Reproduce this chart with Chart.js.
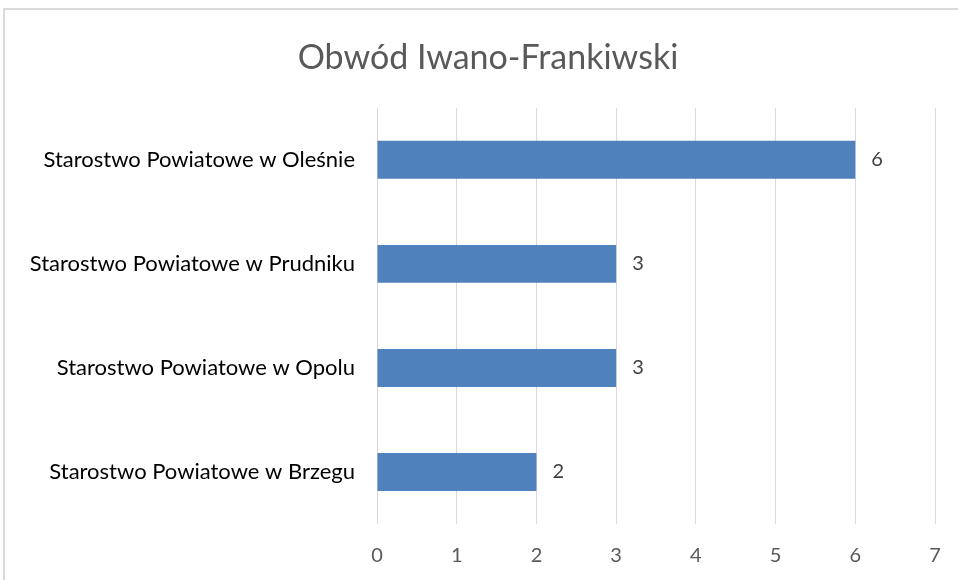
<!DOCTYPE html>
<html>
<head>
<meta charset="utf-8">
<script src="https://cdn.jsdelivr.net/npm/chart.js@4/dist/chart.umd.min.js"></script>
<style>
  html, body { margin: 0; padding: 0; background: #fff; overflow: hidden; }
  #frame {
    position: absolute;
    left: 3px;
    top: 8px;
    width: 966px;
    height: 600px;
    border: 2px solid #d9d9d9;
    background: #fff;
  }
  #chart { display: block; }
</style>
</head>
<body>
<div id="frame">
  <canvas id="chart" width="966" height="580"></canvas>
</div>
<script>
// chart data
const chartTitle = 'Obwód Iwano-Frankiwski';
const categories = [
  'Starostwo Powiatowe w Oleśnie',
  'Starostwo Powiatowe w Prudniku',
  'Starostwo Powiatowe w Opolu',
  'Starostwo Powiatowe w Brzegu'
];
const counts = [6, 3, 3, 2];
const axisMin = 0;
const axisMax = 7;

const FONT = 'Lato, "Open Sans", sans-serif';

/**
 * Draw value labels right of each bar
 */
const valueLabels = {
  id: 'valueLabels',
  afterDatasetsDraw(chart) {
    const ctx = chart.ctx;
    const meta = chart.getDatasetMeta(0);
    ctx.save();
    ctx.font = '20px ' + FONT;
    ctx.fillStyle = '#404040';
    ctx.textAlign = 'left';
    ctx.textBaseline = 'middle';
    meta.data.forEach((bar, i) => {
      ctx.fillText(String(counts[i]), bar.x + 16, bar.y);
    });
    ctx.restore();
  }
};

/**
 * Center the title over the whole frame, not just the padded area
 */
const titleCenter = {
  id: 'titleCenter',
  afterLayout(chart) {
    if (chart.titleBlock) {
      chart.titleBlock.left = 36;
    }
  }
};

const ctx = document.getElementById('chart').getContext('2d');

new Chart(ctx, {
  type: 'bar',
  data: {
    labels: categories,
    datasets: [{
      data: counts,
      backgroundColor: '#4f81bd',
      borderWidth: 0,
      barPercentage: 0.365,
      categoryPercentage: 1
    }]
  },
  options: {
    indexAxis: 'y',
    responsive: false,
    animation: false,
    layout: {
      padding: { left: 0, right: 36, top: 0, bottom: 2 }
    },
    scales: {
      x: {
        min: axisMin,
        max: axisMax,
        border: { display: false },
        grid: {
          color: '#d9d9d9',
          lineWidth: 1,
          drawTicks: false
        },
        ticks: {
          stepSize: 1,
          padding: 20,
          color: '#595959',
          font: { family: FONT, size: 20 }
        }
      },
      y: {
        border: { display: false },
        grid: { display: false, drawTicks: false },
        ticks: {
          padding: 22,
          color: '#000000',
          font: { family: FONT, size: 22 }
        },
        afterFit(scale) {
          scale.width = 372;
        }
      }
    },
    plugins: {
      legend: { display: false },
      tooltip: { enabled: false },
      title: {
        display: true,
        text: chartTitle,
        color: '#595959',
        font: { family: FONT, size: 34, weight: 'normal' },
        padding: { top: 28, bottom: 29 }
      }
    }
  },
  plugins: [valueLabels, titleCenter]
});
</script>
</body>
</html>
